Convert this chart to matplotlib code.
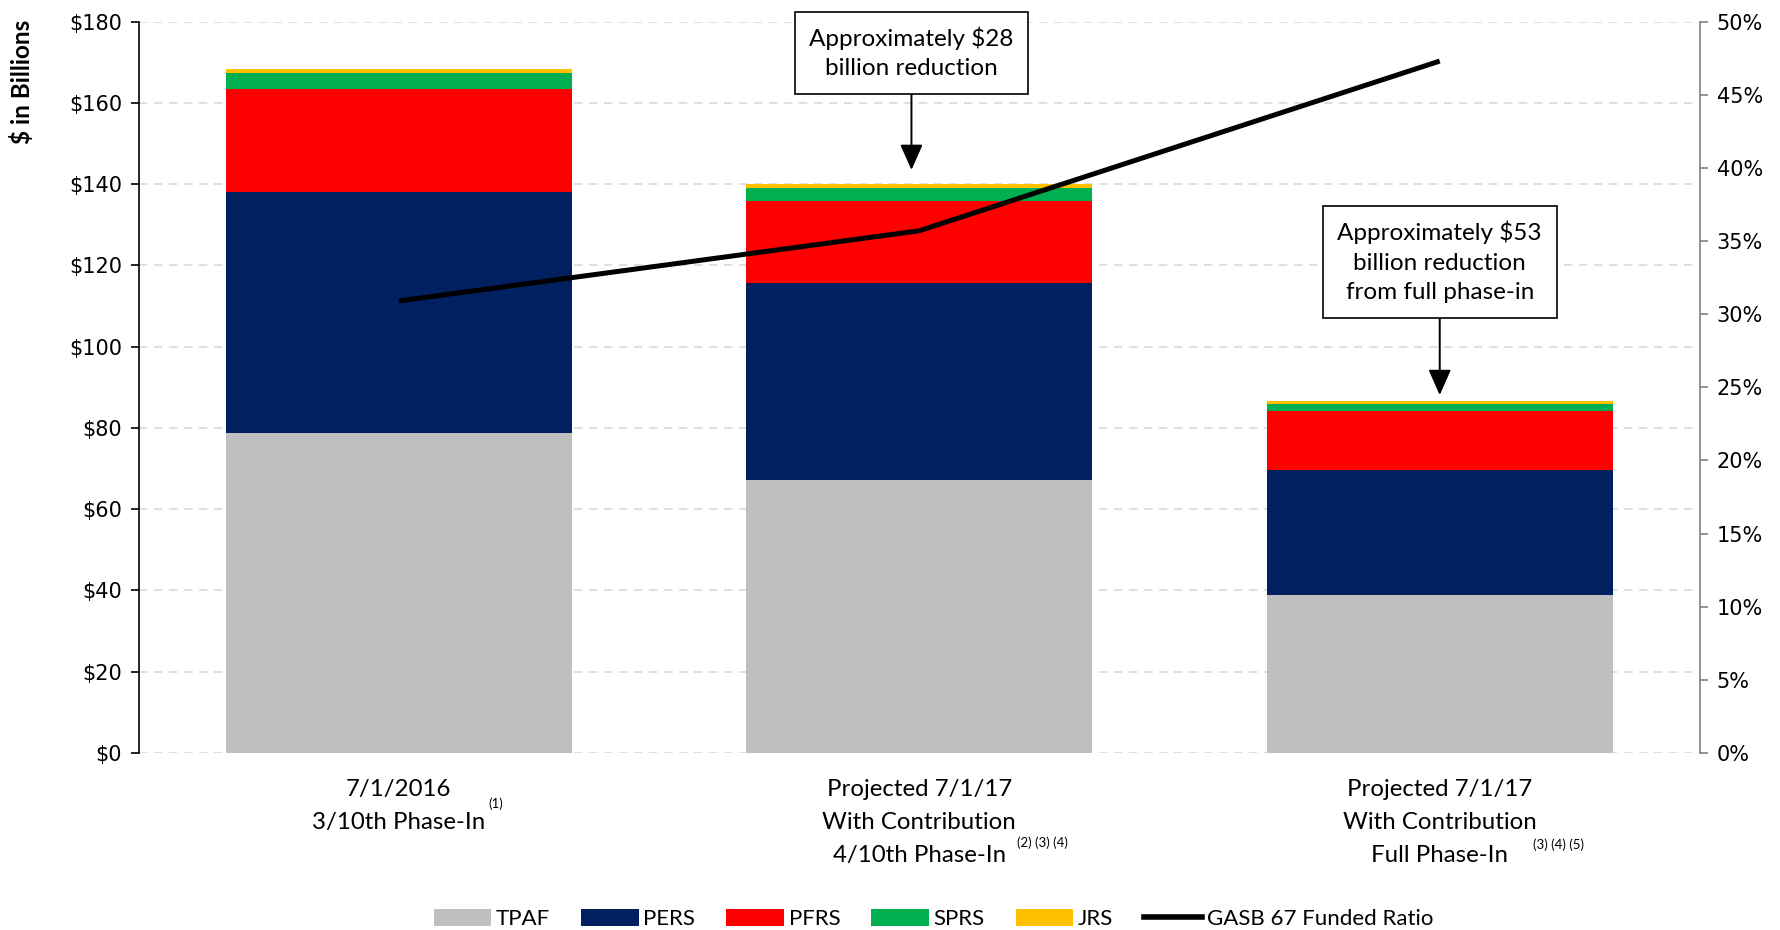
import matplotlib
matplotlib.use("Agg")
import matplotlib.pyplot as plt
from matplotlib.lines import Line2D
from matplotlib.patches import Patch
import numpy as np

categories = ["7/1/2016\n3/10th Phase-In",
              "Projected 7/1/17\nWith Contribution\n4/10th Phase-In",
              "Projected 7/1/17\nWith Contribution\nFull Phase-In"]
footnotes = ["(1)", "(2) (3) (4)", "(3) (4) (5)"]
series_names = ["TPAF", "PERS", "PFRS", "SPRS", "JRS"]
tpaf = [78.8, 67.1, 38.9]
pers = [59.3, 48.5, 30.8]
pfrs = [25.4, 20.3, 14.5]
sprs = [3.9, 3.2, 1.7]
jrs = [0.9, 0.9, 0.7]
funded_ratio = [0.309, 0.357, 0.473]
line_name = "GASB 67 Funded Ratio"
left_ticks = list(range(0, 181, 20))
right_ticks = [i * 0.05 for i in range(11)]
notes = ["Approximately $28\nbillion reduction",
         "Approximately $53\nbillion reduction\nfrom full phase-in"]

colors = ["#bfbfbf", "#002060", "#ff0000", "#00b050", "#ffc000"]
TXT = "Lato"
TICK = "DejaVu Sans"

fig = plt.figure(figsize=(17.81, 9.30), dpi=100)
ax = fig.add_axes([0.0778, 0.1903, 0.9545 - 0.0778, 0.9768 - 0.1903])
x = np.arange(len(categories))
bottom = np.zeros(len(categories))
for vals, c in zip([tpaf, pers, pfrs, sprs, jrs], colors):
    ax.bar(x, vals, width=0.665, bottom=bottom, color=c, zorder=2, linewidth=0)
    bottom += np.array(vals)

ax.set_xlim(-0.5, 2.5)
ax.set_ylim(0, 180)
ax.set_yticks(left_ticks)
ax.set_yticklabels([f"${v}" for v in left_ticks], fontsize=15, family=TICK)
ax.yaxis.grid(True, color="#d9d9d9", linestyle=(0, (5, 4)), linewidth=1.2, zorder=0)
ax.set_axisbelow(True)
for s in ["top", "right", "bottom"]:
    ax.spines[s].set_visible(False)
ax.spines["left"].set_color("black")
ax.spines["left"].set_linewidth(1.2)
ax.tick_params(axis="y", length=6, width=1.2, pad=6)
ax.set_xticks(x)
ax.set_xticklabels(categories, fontsize=17.3, family=TXT, linespacing=1.7)
ax.tick_params(axis="x", length=0, pad=18.5)

# footnote superscripts
foot_pos = [(0.187, -0.070), (1.236, -0.123), (2.228, -0.126)]
for (fx, fy), t in zip(foot_pos, footnotes):
    ax.text(fx, fy, t, transform=ax.get_xaxis_transform(), fontsize=9.5,
            family=TXT, ha="center", va="center")

ax2 = ax.twinx()
ax2.set_ylim(0, 0.5)
ax2.set_yticks(right_ticks)
ax2.set_yticklabels([f"{round(v*100)}%" for v in right_ticks], fontsize=15, family=TICK)
for s in ["top", "left", "bottom"]:
    ax2.spines[s].set_visible(False)
ax2.spines["right"].set_color("#808080")
ax2.spines["right"].set_linewidth(1.2)
ax2.tick_params(axis="y", length=6, width=1.2, color="#808080", pad=6)
ax2.plot(x, funded_ratio, color="black", linewidth=3.6, solid_capstyle="butt", zorder=5)

bbox = dict(boxstyle="square,pad=0.6", fc="white", ec="black", lw=1.2)
arrow = dict(arrowstyle="-|>,head_length=0.9,head_width=0.4", color="black", lw=1.4,
             shrinkA=0, shrinkB=0)
ax.annotate(notes[0], xy=(0.985, 143.5), xytext=(0.985, 172.3), textcoords="data",
            ha="center", va="center", fontsize=17.5, family=TXT, bbox=bbox,
            arrowprops=arrow, linespacing=1.5, zorder=10)
ax.annotate(notes[1], xy=(2.0, 88.1), xytext=(2.0, 120.8), textcoords="data",
            ha="center", va="center", fontsize=17.5, family=TXT, bbox=bbox,
            arrowprops=arrow, linespacing=1.5, zorder=10)

fig.text(22 / 1781, 1 - 20 / 930, "$ in Billions", rotation=90, ha="center", va="top",
         fontsize=17.5, fontweight="bold", family=TXT)

handles = [Patch(facecolor=c, edgecolor="none") for c in colors]
handles.append(Line2D([0], [0], color="black", linewidth=4))
labels = series_names + [line_name]
fig.legend(handles, labels, loc="center", bbox_to_anchor=(0.524, 1 - 919 / 930), ncol=6,
           frameon=False, prop={"family": TXT, "size": 16}, handlelength=2.6,
           handleheight=0.8, handletextpad=0.2, columnspacing=1.4)

fig.savefig("out.png", dpi=100)
